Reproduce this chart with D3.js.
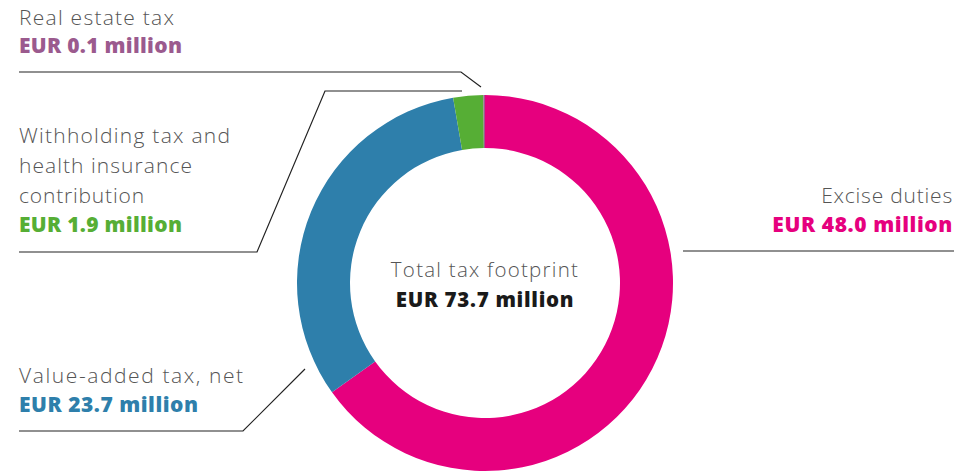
<!DOCTYPE html>
<html><head><meta charset="utf-8">
<script src="https://cdn.jsdelivr.net/npm/d3@7"></script>
<style>
html,body{margin:0;padding:0;background:#fff;}
text{font-family:"Open Sans","Noto Sans",sans-serif;}
</style></head>
<body><svg id="chart" width="954" height="472"></svg>
<script>
const categories = ["Excise duties","Value-added tax, net","Withholding tax and health insurance contribution","Real estate tax"];
const values = [48.0, 23.7, 1.9, 0.1];
const valueLabels = ["EUR 48.0 million","EUR 23.7 million","EUR 1.9 million","EUR 0.1 million"];
const colors = ["#E6007E","#2E7FAB","#56AE35","#9B5A8E"];
const totalLabel = ["Total tax footprint","EUR 73.7 million"];

const svg = d3.select("#chart");
const cx = 485, cy = 283, rOuter = 188, rInner = 135;
const g = svg.append("g").attr("transform",`translate(${cx},${cy})`);
const pie = d3.pie().sort(null).value(d=>d)(values);
const arc = d3.arc().innerRadius(rInner).outerRadius(rOuter);
g.selectAll("path").data(pie).join("path").attr("d",arc).attr("fill",(d,i)=>colors[i]);

// fit text to a target width by letter-spacing
function fit(sel, w){
  const n = sel.text().length;
  const nat = sel.node().getComputedTextLength();
  sel.attr("letter-spacing", ((w - nat)/Math.max(1,n-1)).toFixed(2));
}
function light(x,y,t,anchor,w,fs,parent){
  const s=(parent||svg).append("text").attr("x",x).attr("y",y).attr("text-anchor",anchor)
    .attr("font-size",fs).attr("font-weight",300).attr("fill","#555").text(t);
  fit(s,w); return s;
}
function bold(x,y,t,anchor,w,color,fs,parent){
  const s=(parent||svg).append("text").attr("x",x).attr("y",y).attr("text-anchor",anchor)
    .attr("font-size",fs).attr("font-weight",800).attr("fill",color).text(t);
  fit(s,w); return s;
}

// center
light(0,-6,totalLabel[0],"middle",187,20.5,g);
bold(0,24,totalLabel[1],"middle",178,"#1a1a1a",20.5,g);

// label layout
const labels = [
  {i:0, lines:["Excise duties"], w:[131], bw:180, x:953, y:203, by:232, anchor:"end", leader:[[683,251],[954,251]]},
  {i:1, lines:["Value-added tax, net"], w:[224], bw:179, x:19, y:383, by:412, anchor:"start", leader:[[19,431],[243,431],[305,369]]},
  {i:2, lines:["Withholding tax and","health insurance","contribution"], w:[211,173,125], bw:163, x:19, y:143, by:232, anchor:"start", leader:[[19,252],[257,252],[325,91],[462,91]]},
  {i:3, lines:["Real estate tax"], w:[155], bw:163, x:19, y:25, by:53, anchor:"start", leader:[[19,72],[461,72],[481,87]]}
];
const lh = 30, fs = 21;
labels.forEach(L=>{
  L.lines.forEach((t,k)=> light(L.x, L.y+k*lh, t, L.anchor, L.w[k], fs));
  bold(L.x, L.by, valueLabels[L.i], L.anchor, L.bw, colors[L.i], fs);
  svg.append("path").attr("d",d3.line()(L.leader)).attr("fill","none").attr("stroke","#222").attr("stroke-width",1.2);
});
</script></body></html>
